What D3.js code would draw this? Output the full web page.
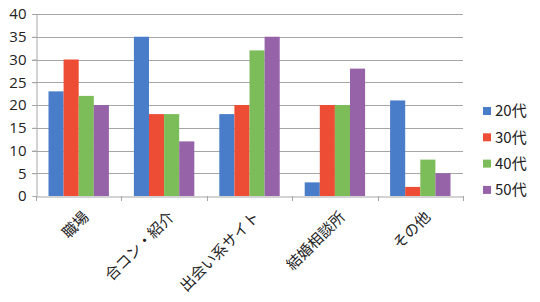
<!DOCTYPE html>
<html>
<head>
<meta charset="utf-8">
<script src="https://cdn.jsdelivr.net/npm/d3@7"></script>
<style>
  body { margin: 0; background: #fff; }
  text { font-family: "Noto Sans CJK JP", "Open Sans", sans-serif; fill: #222; }
</style>
</head>
<body>
<div class="chart"></div>
<script>
// Data
const categories = ["職場", "合コン・紹介", "出会い系サイト", "結婚相談所", "その他"];
const seriesNames = ["20代", "30代", "40代", "50代"];
const s20 = [23, 35, 18, 3, 21];
const s30 = [30, 18, 20, 20, 2];
const s40 = [22, 18, 32, 20, 8];
const s50 = [20, 12, 35, 28, 5];
const yTicks = [0, 5, 10, 15, 20, 25, 30, 35, 40];

const seriesValues = [s20, s30, s40, s50];
const colors = ["#4a7dc9", "#ee4d35", "#7cbd5a", "#9662a8"];

const W = 540, H = 302;
const plot = { left: 36, right: 463, top: 14, bottom: 196 };

const svg = d3.select(".chart")
    .append("svg")
    .attr("width", W)
    .attr("height", H);

const xScale = d3.scaleBand()
    .domain(categories)
    .range([plot.left, plot.right])
    .paddingInner(0)
    .paddingOuter(0);

// gap between groups, split on both sides of each category
const gap = 12.5;
const xInner = d3.scaleBand()
    .domain(seriesNames)
    .range([gap, xScale.bandwidth() - gap]);

const yScale = d3.scaleLinear()
    .domain([0, 40])
    .range([plot.bottom, plot.top]);

// gridlines
svg.append("g")
    .selectAll("line")
    .data(yTicks.filter(d => d > 0))
    .enter()
    .append("line")
    .attr("x1", plot.left - 4)
    .attr("x2", plot.right)
    .attr("y1", d => Math.round(yScale(d)) + 0.5)
    .attr("y2", d => Math.round(yScale(d)) + 0.5)
    .attr("stroke", "#a6a6a6")
    .attr("stroke-width", 1);

// y axis
const yAxis = d3.axisLeft(yScale).tickValues(yTicks).tickSize(4).tickPadding(6);
const yg = svg.append("g")
    .attr("transform", `translate(${plot.left + 0.5},0)`)
    .call(yAxis);
yg.select(".domain").attr("stroke", "#a6a6a6");
yg.selectAll(".tick line").attr("stroke", "#a6a6a6");
yg.selectAll(".tick text")
    .style("font-family", "'Open Sans', sans-serif")
    .style("font-size", "15px")
    .attr("fill", "#222");

// bars
const groups = svg.append("g")
    .selectAll("g")
    .data(categories)
    .enter()
    .append("g")
    .attr("transform", d => `translate(${xScale(d)},0)`);

groups.selectAll("rect")
    .data((d, i) => seriesNames.map((s, j) => ({ s: s, v: seriesValues[j][i], c: colors[j] })))
    .enter()
    .append("rect")
    .attr("x", d => xInner(d.s))
    .attr("width", xInner.bandwidth())
    .attr("y", d => yScale(d.v))
    .attr("height", d => yScale(0) - yScale(d.v))
    .attr("fill", d => d.c);

// x axis
const xAxis = d3.axisBottom(xScale).tickSize(0).tickFormat("");
const xg = svg.append("g")
    .attr("transform", `translate(0,${plot.bottom + 0.5})`)
    .call(xAxis);
xg.select(".domain").attr("stroke", "#a6a6a6");

// category boundary ticks
svg.append("g")
    .selectAll("line")
    .data(d3.range(categories.length + 1))
    .enter()
    .append("line")
    .attr("x1", i => Math.round(plot.left + i * xScale.step()) + 0.5)
    .attr("x2", i => Math.round(plot.left + i * xScale.step()) + 0.5)
    .attr("y1", plot.bottom)
    .attr("y2", plot.bottom + 5)
    .attr("stroke", "#a6a6a6");

// category labels
svg.append("g")
    .selectAll("text")
    .data(categories)
    .enter()
    .append("text")
    .attr("transform", d => `translate(${xScale(d) + xScale.bandwidth() / 2 + 3},${plot.bottom + 14}) rotate(-45)`)
    .attr("text-anchor", "end")
    .attr("dy", "0.75em")
    .style("font-size", "15px")
    .text(d => d);

// legend
const legend = svg.append("g")
    .selectAll("g")
    .data(seriesNames)
    .enter()
    .append("g")
    .attr("transform", (d, i) => `translate(483,${111 + i * 26.3})`);

legend.append("rect")
    .attr("x", 0)
    .attr("y", -4)
    .attr("width", 8)
    .attr("height", 8)
    .attr("fill", (d, i) => colors[i]);

legend.append("text")
    .attr("x", 12)
    .attr("y", 0)
    .attr("dy", "0.36em")
    .style("font-size", "15px")
    .text(d => d);
</script>
</body>
</html>
